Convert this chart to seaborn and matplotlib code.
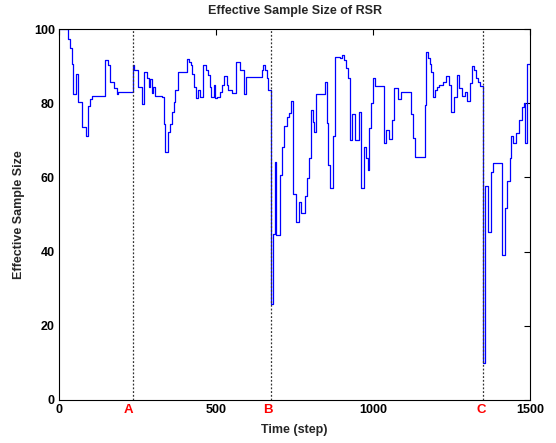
import matplotlib
matplotlib.use("Agg")
import matplotlib.pyplot as plt
import seaborn as sns
import pandas as pd

# Step data: (step at which value begins, value)
steps = [0, 30, 36, 40, 46, 55, 61, 74, 85, 91, 98, 104, 147, 157, 163, 174, 185, 189,
         236, 240, 250, 263, 270, 280, 287, 291, 295, 300, 306, 327, 333, 338, 346, 352,
         359, 365, 369, 378, 408, 414, 420, 425, 429, 435, 442, 448, 459, 469, 476, 480,
         484, 493, 497, 503, 512, 518, 525, 535, 539, 550, 565, 578, 588, 595, 646, 650,
         656, 662, 667, 675, 683, 687, 691, 704, 710, 717, 725, 732, 738, 744, 755, 765,
         772, 783, 791, 797, 802, 808, 812, 819, 847, 853, 857, 863, 872, 880, 895, 901,
         908, 914, 920, 927, 933, 944, 955, 961, 971, 978, 984, 988, 995, 1001, 1007,
         1035, 1041, 1050, 1061, 1067, 1080, 1088, 1122, 1128, 1133, 1167, 1169, 1175,
         1182, 1186, 1192, 1199, 1203, 1209, 1224, 1233, 1241, 1247, 1258, 1269, 1275,
         1283, 1294, 1300, 1309, 1315, 1322, 1328, 1334, 1341, 1349, 1356, 1358, 1366,
         1375, 1377, 1383, 1411, 1419, 1428, 1436, 1441, 1447, 1455, 1464, 1473, 1481,
         1485, 1491, 1500]
ess = [100, 97.3, 95, 90.7, 82.4, 87.8, 80.2, 73.7, 71.2, 79.2, 81.1, 82.0, 91.6, 90.3,
       85.8, 84.2, 82.6, 83.1, 90.3, 88.9, 84.5, 79.7, 88.4, 86.7, 84.5, 86.5, 82.7, 84.5,
       82.0, 81.7, 74.3, 66.8, 72.2, 74.5, 77.7, 80.4, 83.6, 88.5, 91.9, 91.2, 90.3, 88.0,
       84.5, 81.5, 83.6, 81.8, 90.3, 88.9, 87.6, 84.5, 81.8, 84.9, 81.5, 81.8, 83.1, 84.9,
       87.4, 84.9, 83.6, 82.7, 91.0, 88.9, 82.4, 87.0, 88.9, 90.3, 88.9, 86.7, 83.6, 25.8,
       44.7, 64.2, 44.6, 60.6, 68.3, 73.9, 76.4, 77.3, 80.6, 55.4, 48.1, 53.5, 50.3, 55.1,
       59.8, 65.1, 78.2, 75.0, 72.2, 82.4, 85.6, 74.6, 63.3, 57.2, 71.2, 92.4, 92.1, 93.0,
       91.6, 89.4, 86.9, 70.1, 77.0, 70.1, 77.5, 57.2, 68.3, 65.1, 62.0, 73.4, 80.0, 86.9,
       84.7, 69.2, 72.8, 70.4, 75.5, 84.0, 81.1, 83.1, 77.0, 70.7, 65.6, 79.5, 93.7, 92.1,
       90.5, 88.5, 81.7, 83.6, 84.5, 84.9, 85.6, 87.2, 84.9, 77.5, 81.7, 87.6, 84.0, 82.0,
       83.1, 80.6, 85.4, 90.1, 88.9, 86.7, 85.8, 84.7, 9.9, 34.1, 57.8, 45.4, 53.5, 61.5,
       64.0, 39.2, 51.7, 58.9, 65.1, 71.2, 69.2, 71.9, 75.5, 79.1, 80.0, 69.4, 90.5, 90.5]

event_steps = [236, 674, 1349]
event_labels = ["A", "B", "C"]
event_label_x = [220, 665, 1344]
x_ticks = [0, 500, 1000, 1500]
y_ticks = [0, 20, 40, 60, 80, 100]

sns.set_style("white")
plt.rcParams['font.family'] = ['Liberation Sans', 'DejaVu Sans']

df = pd.DataFrame({"step": steps, "ess": ess})

fig = plt.figure(figsize=(5.56, 4.43), dpi=100)
ax = fig.add_axes([59/556, 1 - 400/443, (530 - 59)/556, (400 - 29)/443])

sns.lineplot(data=df, x="step", y="ess", ax=ax, color="#0000ff", linewidth=0.9,
             drawstyle="steps-post", estimator=None)

for xs in event_steps:
    ax.axvline(xs, color="#333333", linestyle=(0, (1.5, 1.5)), linewidth=0.9)

ax.set_xlim(0, 1500)
ax.set_ylim(0, 100)
ax.set_xticks(x_ticks)
ax.set_yticks(y_ticks)
ax.tick_params(direction="in", length=4, width=0.8, top=True, right=True,
               labelsize=9, pad=3, colors="black")
for lab in ax.get_xticklabels() + ax.get_yticklabels():
    lab.set_fontweight("bold")

for sp in ax.spines.values():
    sp.set_color("black")
    sp.set_linewidth(0.8)

for xl, lab in zip(event_label_x, event_labels):
    ax.text(xl, -0.012, lab, transform=ax.get_xaxis_transform(), color="red",
            ha="center", va="top", fontsize=9.5, fontweight="bold")

ax.set_title("Effective Sample Size of RSR", fontsize=9, fontweight="bold", pad=11)
ax.set_xlabel("Time (step)", fontsize=9, fontweight="bold", labelpad=6)
ax.set_ylabel("Effective Sample Size", fontsize=9, fontweight="bold", labelpad=6)

fig.savefig("out.png", dpi=100, facecolor="white")
